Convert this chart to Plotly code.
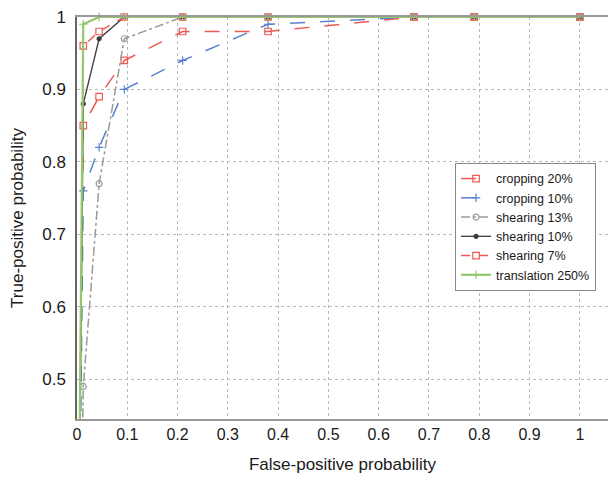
import plotly.graph_objects as go

fpr = [0, 0.0125, 0.044, 0.094, 0.21, 0.38, 0.67, 0.79, 1.0]

series_names = ["cropping 20%", "cropping 10%", "shearing 13%", "shearing 10%", "shearing 7%", "translation 250%"]
cropping20 = [0, 0.85, 0.89, 0.94, 0.98, 0.98, 1.0, 1.0, 1.0]
cropping10 = [0, 0.76, 0.82, 0.90, 0.94, 0.99, 1.0, 1.0, 1.0]
shearing13 = [0, 0.49, 0.77, 0.97, 1.0, 1.0, 1.0, 1.0, 1.0]
shearing10 = [0, 0.88, 0.97, 1.0, 1.0, 1.0, 1.0, 1.0, 1.0]
shearing7 = [0, 0.96, 0.98, 1.0, 1.0, 1.0, 1.0, 1.0, 1.0]
translation250 = [0, 0.99, 1.0, 1.0, 1.0, 1.0, 1.0, 1.0, 1.0]

x_ticks = [0, 0.1, 0.2, 0.3, 0.4, 0.5, 0.6, 0.7, 0.8, 0.9, 1]
y_ticks = [0.5, 0.6, 0.7, 0.8, 0.9, 1]

styles = [
    dict(color="#ee5a52", dash="longdash", symbol="square-open", size=6.5, width=1.5),
    dict(color="#5a82cc", dash="longdash", symbol="cross-thin-open", size=6, width=1.5),
    dict(color="#9a9a9a", dash="dashdot", symbol="circle-open", size=6, width=1.5),
    dict(color="#3a3a3a", dash="solid", symbol="circle", size=4, width=1.3),
    dict(color="#ee5a52", dash="dash", symbol="square-open", size=6.5, width=1.5),
    dict(color="#92c86a", dash="solid", symbol="cross-thin-open", size=6, width=2.2),
]
data = [cropping20, cropping10, shearing13, shearing10, shearing7, translation250]

fig = go.Figure()
for name, ys, st in zip(series_names, data, styles):
    fig.add_trace(go.Scatter(
        x=fpr, y=ys, name=name, mode="lines+markers",
        line=dict(color=st["color"], dash=st["dash"], width=st["width"]),
        marker=dict(symbol=st["symbol"], size=st["size"], color=st["color"],
                    line=dict(color=st["color"], width=1.2)),
        cliponaxis=False,
    ))

font = "Liberation Sans, Arial, sans-serif"
fig.update_layout(
    width=608, height=481,
    margin=dict(l=77, r=0, t=17, b=62),
    paper_bgcolor="white", plot_bgcolor="white",
    font=dict(family=font, color="#1a1a1a"),
    showlegend=True,
    legend=dict(x=0.712, y=0.637, xanchor="left", yanchor="top",
                bgcolor="white", bordercolor="#888888", borderwidth=1,
                font=dict(size=12.5, family=font), tracegroupgap=0,
                itemwidth=30),
    xaxis=dict(range=[0, 1.056], tickvals=x_ticks, ticktext=[("%g" % v) for v in x_ticks],
               showgrid=True, gridcolor="#b8b8b8", griddash="dot", gridwidth=1,
               showline=True, linecolor="#999999", linewidth=1.5, mirror=True,
               ticks="", zeroline=False, tickfont=dict(size=16),
               title=dict(text="False-positive probability", font=dict(size=17), standoff=16)),
    yaxis=dict(range=[0.445, 1.0], tickvals=y_ticks, ticktext=[("%g" % v) for v in y_ticks],
               showgrid=True, gridcolor="#b8b8b8", griddash="dot", gridwidth=1,
               showline=True, linecolor="#666666", linewidth=1.5,
               ticks="", zeroline=False, tickfont=dict(size=17), ticklabelstandoff=6,
               title=dict(text="True-positive probability", font=dict(size=17), standoff=14)),
)

fig.write_html("out.html")
